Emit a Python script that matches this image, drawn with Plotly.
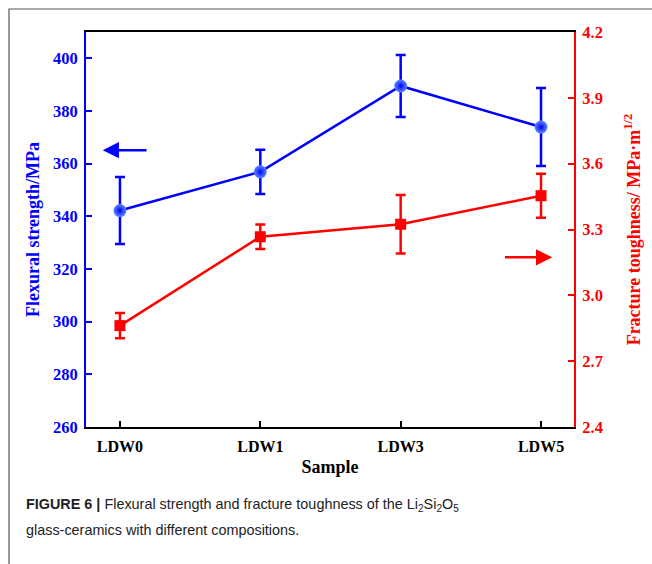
import plotly.graph_objects as go

categories = ["LDW0", "LDW1", "LDW3", "LDW5"]
x_pos = [0, 1, 2, 3]
flexural = [342.2, 356.9, 389.5, 373.9]
flexural_err = [12.7, 8.4, 11.8, 14.8]
toughness = [2.862, 3.267, 3.324, 3.454]
toughness_err = [0.058, 0.056, 0.133, 0.10]
left_ticks = [260, 280, 300, 320, 340, 360, 380, 400]
right_ticks = [2.4, 2.7, 3.0, 3.3, 3.6, 3.9, 4.2]

BLUE = "#0000ff"
RED = "#ff0000"
serif = "Liberation Serif, Times New Roman, serif"

fig = go.Figure()
fig.add_trace(go.Scatter(
    x=x_pos, y=flexural, mode="lines+markers", yaxis="y",
    line=dict(color=BLUE, width=2.5),
    marker=dict(symbol="circle", size=13, color="#5f8cff",
                gradient=dict(type="radial", color=BLUE),
                line=dict(width=0)),
    error_y=dict(type="data", array=flexural_err, visible=True,
                 color=BLUE, thickness=2.5, width=5),
    showlegend=False,
))
fig.add_trace(go.Scatter(
    x=x_pos, y=toughness, mode="lines+markers", yaxis="y2",
    line=dict(color=RED, width=2.5),
    marker=dict(symbol="square", size=11, color=RED, line=dict(width=0)),
    error_y=dict(type="data", array=toughness_err, visible=True,
                 color=RED, thickness=2.5, width=5),
    showlegend=False,
))

tickfont_blue = dict(family=serif, size=16.5, color=BLUE, weight="bold")
tickfont_red = dict(family=serif, size=16.5, color=RED, weight="bold")

fig.update_layout(
    width=652, height=564,
    margin=dict(l=86, r=78, t=32, b=137),
    paper_bgcolor="white", plot_bgcolor="white",
    xaxis=dict(
        range=[-0.242, 3.235], tickvals=x_pos, ticktext=categories,
        showline=True, linecolor="black", linewidth=2, mirror=True,
        ticks="inside", ticklen=6, tickwidth=1.5, tickcolor="black",
        showgrid=False, zeroline=False, ticklabelstandoff=4,
        tickfont=dict(family=serif, size=16, color="black", weight="bold"),
        title=dict(text="Sample", standoff=6,
                   font=dict(family=serif, size=18, color="black", weight="bold")),
    ),
    yaxis=dict(
        range=[260, 410], tickvals=left_ticks,
        showline=True, linecolor=BLUE, linewidth=2,
        ticks="inside", ticklen=6, tickwidth=1.5, tickcolor=BLUE,
        showgrid=False, zeroline=False, tickfont=tickfont_blue, ticklabelstandoff=3,
        title=dict(text="Flexural strength/MPa", standoff=9,
                   font=dict(family=serif, size=18, color=BLUE, weight="bold")),
    ),
    yaxis2=dict(
        range=[2.4, 4.2], tickvals=right_ticks, tickformat=".1f",
        overlaying="y", side="right",
        showline=True, linecolor=RED, linewidth=2,
        ticks="inside", ticklen=6, tickwidth=1.5, tickcolor=RED,
        showgrid=False, zeroline=False, tickfont=tickfont_red, ticklabelstandoff=3,
        title=dict(text="Fracture toughness/ MPa·m<sup>1/2</sup>", standoff=25,
                   font=dict(family=serif, size=18, color=RED, weight="bold")),
    ),
)

# direction arrows
fig.add_annotation(x=-0.123, y=365.1, ax=0.2, ay=365.1, xref="x", yref="y",
                   axref="x", ayref="y", showarrow=True, arrowhead=2,
                   arrowsize=1.3, arrowwidth=2.5, arrowcolor=BLUE, text="")
fig.add_annotation(x=3.08, y=3.173, ax=2.732, ay=3.173, xref="x", yref="y2",
                   axref="x", ayref="y2", showarrow=True, arrowhead=2,
                   arrowsize=1.3, arrowwidth=2.5, arrowcolor=RED, text="")

# outer frame
W = 574 - 86
H = 427 - 32
fig.add_shape(type="rect", xref="paper", yref="paper",
              x0=(9 - 86) / W, x1=(700 - 86) / W,
              y0=(427 - 620) / H, y1=(427 - 9) / H,
              line=dict(color="#555555", width=1.2), fillcolor="rgba(0,0,0,0)")

cap_font = dict(family="Liberation Sans Narrow, Arial Narrow, Liberation Sans, Arial, sans-serif",
                size=14.4, color="#222222")
fig.add_annotation(xref="paper", yref="paper", x=(24 - 86) / W, y=(427 - 505) / H,
                   xanchor="left", yanchor="middle", showarrow=False, font=cap_font,
                   text="<b>FIGURE 6 |</b> Flexural strength and fracture toughness of the Li<sub>2</sub>Si<sub>2</sub>O<sub>5</sub>")
fig.add_annotation(xref="paper", yref="paper", x=(24 - 86) / W, y=(427 - 530) / H,
                   xanchor="left", yanchor="middle", showarrow=False, font=cap_font,
                   text="glass-ceramics with different compositions.")

fig.write_html("out.html")
